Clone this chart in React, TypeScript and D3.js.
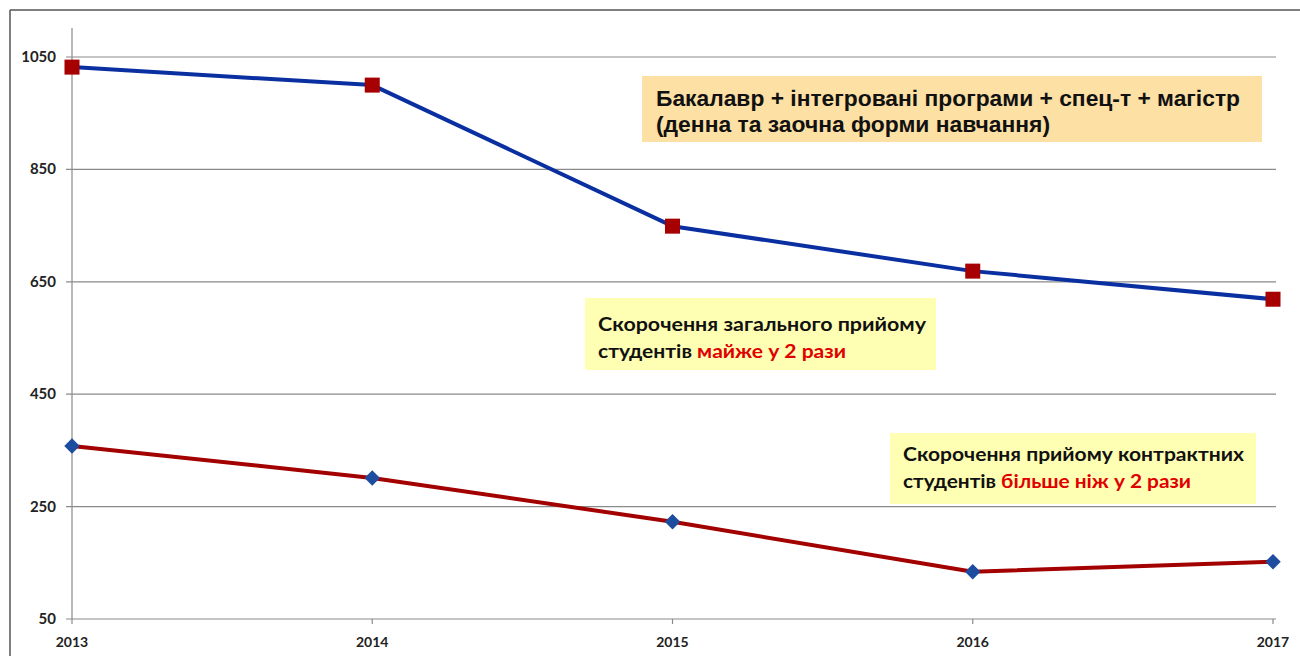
import React from "react";
import * as d3 from "d3";

const years = ["2013", "2014", "2015", "2016", "2017"];
const totalAdmission = [1032, 1000, 749, 669, 619];
const contractAdmission = [358, 301, 223, 134, 152];
const yTicks = [50, 250, 450, 650, 850, 1050];

const W = 1300;
const H = 656;

export default function App() {
  const x = d3.scalePoint<string>().domain(years).range([72, 1273]);
  const y = d3.scaleLinear().domain([50, 1050]).range([619, 57]);
  const line = d3
    .line<number>()
    .x((_, i) => x(years[i]) as number)
    .y((d) => y(d));
  const labelFont = "Lato, 'Open Sans', sans-serif";
  const noteFont = "Lato, 'Open Sans', sans-serif";
  const adj = "spacingAndGlyphs";
  return (
    <svg
      width={W}
      height={H}
      style={{ position: "absolute", left: 0, top: 0, background: "#fff" }}
    >
      {/* outer frame */}
      <line x1={10} y1={10} x2={W} y2={10} stroke="#555" strokeWidth={1.5} />
      <line x1={10} y1={10} x2={10} y2={H} stroke="#555" strokeWidth={1.5} />

      {/* gridlines */}
      {yTicks.map((t) => (
        <g key={t}>
          <line x1={66} x2={1276} y1={y(t)} y2={y(t)} stroke="#8a8a8a" strokeWidth={1.2} />
          <text
            x={56}
            y={y(t) + 5}
            textAnchor="end"
            fontFamily={labelFont}
            fontWeight={700}
            fontSize={15}
            fill="#222"
          >
            {t}
          </text>
        </g>
      ))}
      {/* y axis */}
      <line x1={72} x2={72} y1={28} y2={619} stroke="#8a8a8a" strokeWidth={1.2} />
      {/* x ticks */}
      {years.map((yr) => (
        <g key={yr}>
          <line
            x1={x(yr) as number}
            x2={x(yr) as number}
            y1={y(50)}
            y2={y(50) + 5}
            stroke="#8a8a8a"
            strokeWidth={1.2}
          />
          <text
            x={x(yr) as number}
            y={647}
            textAnchor="middle"
            fontFamily={labelFont}
            fontWeight={700}
            fontSize={14}
            fill="#222"
          >
            {yr}
          </text>
        </g>
      ))}

      {/* annotation boxes */}
      <rect x={642} y={76} width={620} height={66} fill="#FCE0A4" />
      <g fontFamily="'Liberation Sans', Arial, sans-serif" fontWeight={700} fontSize={22} fill="#111">
        <text x={656} y={106} textLength={584} lengthAdjust={adj}>
          Бакалавр + інтегровані програми + спец-т + магістр
        </text>
        <text x={656} y={132} textLength={394} lengthAdjust={adj}>
          (денна та заочна форми навчання)
        </text>
      </g>

      <rect x={585} y={298} width={351} height={72} fill="#FFFFB3" />
      <g fontFamily={noteFont} fontWeight={700} fontSize={19} fill="#111">
        <text x={598} y={331} textLength={328} lengthAdjust={adj}>
          Скорочення загального прийому
        </text>
        <text x={598} y={358} textLength={248} lengthAdjust={adj}>
          студентів <tspan fill="#E00000">майже у 2 рази</tspan>
        </text>
      </g>

      <rect x={890} y={433} width={366} height={71} fill="#FFFFB3" />
      <g fontFamily={noteFont} fontWeight={700} fontSize={19} fill="#111">
        <text x={903} y={461} textLength={341} lengthAdjust={adj}>
          Скорочення прийому контрактних
        </text>
        <text x={903} y={488} textLength={288} lengthAdjust={adj}>
          студентів <tspan fill="#E00000">більше ніж у 2 рази</tspan>
        </text>
      </g>

      {/* series */}
      <path d={line(totalAdmission) || ""} fill="none" stroke="#0A2FA0" strokeWidth={4} strokeLinejoin="round" />
      <path d={line(contractAdmission) || ""} fill="none" stroke="#A30000" strokeWidth={4} strokeLinejoin="round" />
      {totalAdmission.map((v, i) => (
        <rect
          key={"s" + i}
          x={(x(years[i]) as number) - 7.5}
          y={y(v) - 7.5}
          width={15}
          height={15}
          fill="#A60000"
        />
      ))}
      {contractAdmission.map((v, i) => (
        <rect
          key={"d" + i}
          x={-5.5}
          y={-5.5}
          width={11}
          height={11}
          fill="#1E4C9E"
          transform={`translate(${x(years[i])},${y(v)}) rotate(45)`}
        />
      ))}
    </svg>
  );
}
